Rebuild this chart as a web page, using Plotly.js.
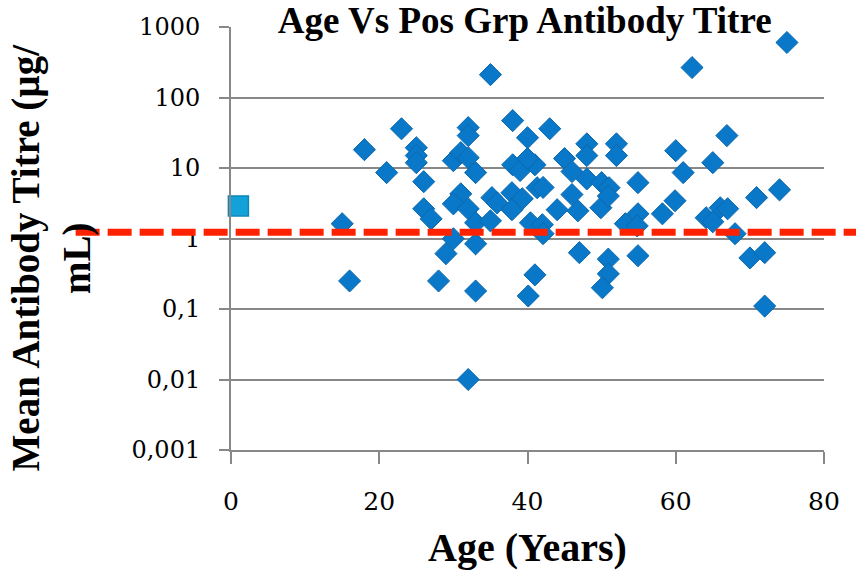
<!DOCTYPE html>
<html>
<head>
<meta charset="utf-8">
<script src="https://cdn.plot.ly/plotly-3.0.1.min.js"></script>
<style>html,body{margin:0;padding:0;background:#fff;}#chart{width:856px;height:577px;}</style>
</head>
<body>
<div id="chart"></div>
<script>
// Positive group: age (years) and mean antibody titre (µg/mL)
const ages = [15,16,18,21,23,25,25,25,26,26,27,28,29,30,30,31,32,32,32,33,31,30,32,33,33,33,32,35,38,40,43,38,39,41,40,45,46,48,48,48,50,51,52,52,41.3,42.1,35.2,35.9,37.9,39.3,37.9,35,40.4,42,44,46,46.8,49.9,50.9,41,40.1,42.1,47,50.9,50.9,50.1,54.9,62.2,75,66.9,60,65,61,54.9,59.9,58.2,54.9,53.2,54.8,70.9,74,66,67,64.1,65,68,70,72,72];
const titres = [1.62,0.25,18.2,8.6,36,19.4,15,11.9,6.4,2.64,1.9,0.25,0.61,0.99,12.7,16.5,37.4,28.8,14,8.6,4.3,3.1,2.64,1.67,0.84,0.18,0.01,211,47,26.9,36,11.1,9.2,11.1,13.6,13.6,8.9,22,15,7.0,6.2,5.25,22,15,5.25,5.3,3.8,3.2,4.46,3.66,2.56,1.78,1.67,1.57,2.56,4.2,2.47,2.73,4.0,0.305,0.153,1.17,0.63,0.51,0.315,0.2,0.57,266,603,28.8,17.6,11.9,8.6,6.2,3.43,2.24,2.24,1.62,1.51,3.8,4.9,2.73,2.64,1.97,1.73,1.17,0.53,0.63,0.11];
// Reference point (square) and threshold
const refAge = [1];
const refTitre = [2.9];
const threshold = 1.23;
// Axis ticks
const yTickVals = [0.001,0.01,0.1,1,10,100,1000];
const yTickText = ['0,001','0,01','0,1','1','10','100','1000'];
const xTickVals = [0,20,40,60,80];

const serif = '"Liberation Serif","DejaVu Serif",serif';
const tickSerif = '"DejaVu Serif","Liberation Serif",serif';

const data = [
  {x: ages, y: titres, type: 'scatter', mode: 'markers',
   marker: {symbol: 'diamond', size: 17, color: '#0A78C8', line: {color: '#0B68AE', width: 1}},
   hoverinfo: 'x+y'},
  {x: refAge, y: refTitre, type: 'scatter', mode: 'markers',
   marker: {symbol: 'square', size: 20, color: '#12A2D9', line: {color: '#0D86B8', width: 1.5}},
   cliponaxis: false}
];

const layout = {
  width: 856, height: 577,
  margin: {l: 230.5, r: 32, t: 26.5, b: 127},
  paper_bgcolor: '#ffffff', plot_bgcolor: '#ffffff',
  showlegend: false,
  font: {family: serif, color: '#000'},
  title: {text: '<b>Age Vs Pos Grp Antibody Titre</b>', font: {family: serif, size: 37, color: '#000'},
          x: 0.613, xanchor: 'center', y: 0.965, yanchor: 'middle', xref: 'container', yref: 'container'},
  xaxis: {range: [0, 80], tickvals: xTickVals, ticks: 'outside', ticklen: 12, tickwidth: 2, tickcolor: '#888',
          showgrid: false, zeroline: false, showline: true, linecolor: '#888', linewidth: 2,
          tickfont: {family: tickSerif, size: 25, color: '#000'}, ticklabelstandoff: 16,
          title: {text: '<b>Age (Years)</b>', font: {family: serif, size: 40, color: '#000'}, standoff: 18}},
  yaxis: {type: 'log', range: [-3, 3], tickvals: yTickVals, ticktext: yTickText,
          ticks: 'outside', ticklen: 10, tickwidth: 2, tickcolor: '#888',
          showgrid: true, gridcolor: '#888', gridwidth: 2, zeroline: false,
          showline: true, linecolor: '#888', linewidth: 2,
          tickfont: {family: tickSerif, size: 24, color: '#000'}, ticklabelstandoff: 14},
  annotations: [
    {text: '<b>Mean Antibody Titre (µg/<br>mL)</b>', xref: 'paper', yref: 'paper', x: -0.302, y: 0.455,
     xanchor: 'center', yanchor: 'middle', textangle: -90, showarrow: false,
     font: {family: serif, size: 39, color: '#000'}}
  ],
  shapes: [
    {type: 'line', xref: 'paper', yref: 'y', x0: -0.262, x1: 1.06, y0: threshold, y1: threshold,
     line: {color: '#FF2200', width: 7, dash: '24px,8px'}, layer: 'above'}
  ]
};

Plotly.newPlot('chart', data, layout, {displayModeBar: false, staticPlot: true});
</script>
</body>
</html>
